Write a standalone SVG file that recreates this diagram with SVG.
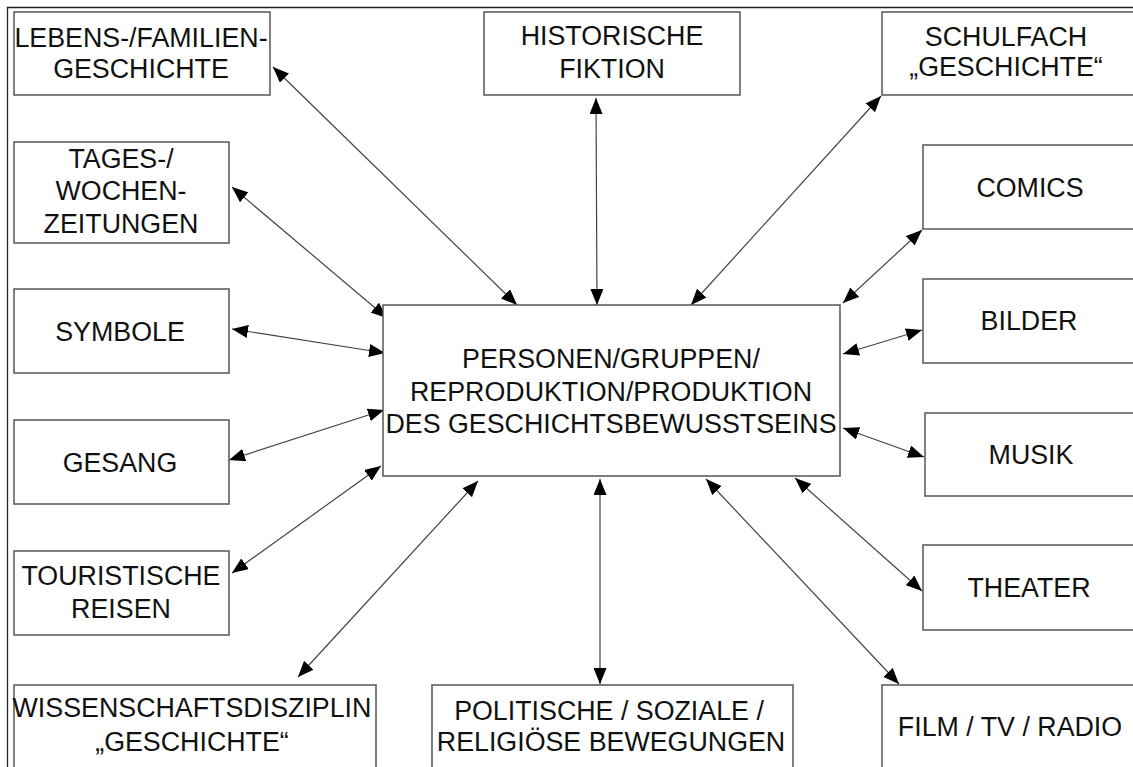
<svg xmlns="http://www.w3.org/2000/svg" width="1133" height="767" viewBox="0 0 1133 767">
<defs>
<marker id="ah" markerUnits="userSpaceOnUse" markerWidth="17" markerHeight="13" viewBox="0 0 17 13" refX="16" refY="6.5" orient="auto-start-reverse">
<path d="M0,0 L16,6.5 L0,13 z" fill="#000"/>
</marker>
<style>
.box{fill:#fff;stroke:#555;stroke-width:1.5}
.t{font-family:"Liberation Sans",Arial,sans-serif;font-size:26.8px;fill:#111;text-anchor:middle}
.c{stroke:#444;stroke-width:1.2;fill:none;marker-start:url(#ah);marker-end:url(#ah)}
.frame{stroke:#222;stroke-width:1.3;fill:none}
</style>
</defs>
<rect width="1133" height="767" fill="#fff"/>
<path class="frame" d="M7.5,767 L7.5,7.5 L1133,7.5"/>
<g id="connectors">
<line class="c" x1="273" y1="67" x2="517" y2="305"/>
<line class="c" x1="232" y1="187" x2="387" y2="318"/>
<line class="c" x1="596" y1="98" x2="597" y2="305"/>
<line class="c" x1="881" y1="96" x2="691" y2="305"/>
<line class="c" x1="922" y1="230" x2="843" y2="303"/>
<line class="c" x1="232" y1="329" x2="385" y2="353"/>
<line class="c" x1="229" y1="460" x2="384" y2="410"/>
<line class="c" x1="232" y1="573" x2="381" y2="466"/>
<line class="c" x1="298" y1="677" x2="478" y2="481"/>
<line class="c" x1="600" y1="479" x2="600" y2="684"/>
<line class="c" x1="706" y1="479" x2="899" y2="684"/>
<line class="c" x1="795" y1="478" x2="922" y2="591"/>
<line class="c" x1="843" y1="428" x2="924" y2="457"/>
<line class="c" x1="843" y1="354" x2="922" y2="330"/>
</g>
<g id="center">
<rect class="box" x="383" y="305" width="457" height="171"/>
<text class="t" x="611" y="368">PERSONEN/GRUPPEN/</text>
<text class="t" x="611" y="401">REPRODUKTION/PRODUKTION</text>
<text class="t" x="611" y="433">DES GESCHICHTSBEWUSSTSEINS</text>
</g>
<g id="lebens">
<rect class="box" x="14" y="12" width="256" height="83"/>
<text class="t" x="141" y="47">LEBENS-/FAMILIEN-</text>
<text class="t" x="141" y="78">GESCHICHTE</text>
</g>
<g id="tages">
<rect class="box" x="14" y="142" width="215" height="101"/>
<text class="t" x="121" y="168">TAGES-/</text>
<text class="t" x="121" y="200">WOCHEN-</text>
<text class="t" x="121" y="233">ZEITUNGEN</text>
</g>
<g id="historische">
<rect class="box" x="484" y="12" width="256" height="83"/>
<text class="t" x="612" y="45">HISTORISCHE</text>
<text class="t" x="612" y="78">FIKTION</text>
</g>
<g id="schulfach">
<rect class="box" x="882" y="12" width="260" height="83"/>
<text class="t" x="1006" y="46">SCHULFACH</text>
<text class="t" x="1006" y="76">„GESCHICHTE“</text>
</g>
<g id="comics">
<rect class="box" x="923" y="145" width="220" height="84"/>
<text class="t" x="1030" y="197">COMICS</text>
</g>
<g id="symbole">
<rect class="box" x="14" y="289" width="215" height="84"/>
<text class="t" x="120" y="341">SYMBOLE</text>
</g>
<g id="gesang">
<rect class="box" x="14" y="420" width="215" height="84"/>
<text class="t" x="120" y="472">GESANG</text>
</g>
<g id="bilder">
<rect class="box" x="923" y="279" width="220" height="84"/>
<text class="t" x="1029" y="330">BILDER</text>
</g>
<g id="musik">
<rect class="box" x="925" y="413" width="220" height="83"/>
<text class="t" x="1031" y="464">MUSIK</text>
</g>
<g id="touristische">
<rect class="box" x="14" y="551" width="215" height="84"/>
<text class="t" x="121" y="585">TOURISTISCHE</text>
<text class="t" x="121" y="618">REISEN</text>
</g>
<g id="theater">
<rect class="box" x="923" y="545" width="220" height="85"/>
<text class="t" x="1029" y="597">THEATER</text>
</g>
<g id="wissenschaft">
<rect class="box" x="14" y="685" width="362" height="100"/>
<text class="t" x="192" y="717">WISSENSCHAFTSDISZIPLIN</text>
<text class="t" x="192" y="751">„GESCHICHTE“</text>
</g>
<g id="politische">
<rect class="box" x="432" y="685" width="361" height="100"/>
<text class="t" x="609" y="720">POLITISCHE / SOZIALE /</text>
<text class="t" x="611" y="751">RELIGIÖSE BEWEGUNGEN</text>
</g>
<g id="film">
<rect class="box" x="882" y="685" width="260" height="100"/>
<text class="t" x="1010" y="736">FILM / TV / RADIO</text>
</g>
</svg>
